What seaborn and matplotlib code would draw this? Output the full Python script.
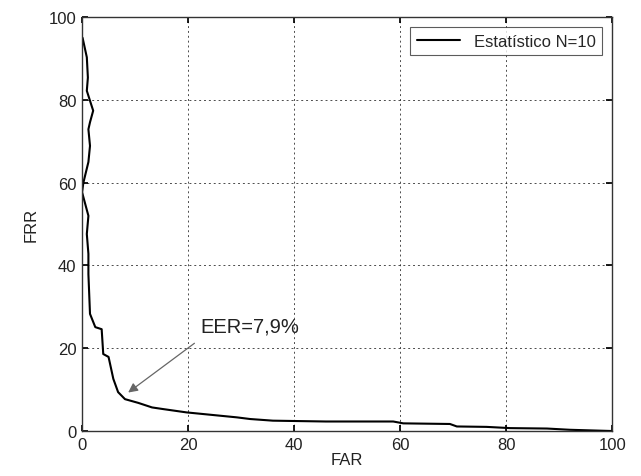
import pandas as pd
import seaborn as sns
import matplotlib.pyplot as plt

far = [0.1, 0.9, 1.1, 0.9, 1.5, 2.1, 1.5, 1.2, 1.5, 1.2, 0.25, 0.0, 1.2, 0.9, 1.2, 1.2,
       1.5, 2.5, 3.7, 4.0, 5.0, 5.9, 6.8, 8.1, 10.6, 13.2, 15.3, 19.7, 29.2, 31.7,
       36.0, 46.0, 58.7, 60.6, 69.4, 70.7, 76.3, 80.8, 87.7, 92.0, 100.0]
frr = [95.0, 90.3, 85.4, 82.2, 79.8, 77.4, 74.6, 72.9, 68.9, 65.0, 60.0, 57.7, 52.0, 47.6, 42.8, 37.9,
       28.3, 25.1, 24.6, 18.6, 17.9, 12.6, 9.4, 7.7, 6.8, 5.7, 5.3, 4.5, 3.3, 2.9,
       2.5, 2.3, 2.3, 1.85, 1.7, 1.1, 1.0, 0.7, 0.6, 0.3, 0.0]
label = "Estatístico N=10"
eer_text = "EER=7,9%"

df = pd.DataFrame({"FAR": far, "FRR": frr})

sns.set_theme(style="white")
plt.rcParams["font.family"] = ["Liberation Sans", "DejaVu Sans"]

fig = plt.figure(figsize=(6.41, 4.77), dpi=100)
ax = fig.add_axes([0.128, 0.0943, 0.827, 0.8677])

sns.lineplot(data=df, x="FAR", y="FRR", sort=False, estimator=None, color="black",
             linewidth=1.5, label=label, ax=ax)

ax.set_xlim(0, 100)
ax.set_ylim(0, 100)
ax.set_xticks([0, 20, 40, 60, 80, 100])
ax.set_yticks([0, 20, 40, 60, 80, 100])
ax.grid(True, color="black", linestyle=(0, (2, 3)), linewidth=0.7, alpha=0.7)
ax.tick_params(direction="in", labelsize=12, length=4, colors="black", pad=4,
               top=True, right=True, bottom=True, left=True, labelcolor="#222222")
for s in ax.spines.values():
    s.set_color("#333333")
    s.set_linewidth(1.0)
ax.set_xlabel("FAR", fontsize=12, labelpad=0, color="#222222")
ax.set_ylabel("FRR", fontsize=12, labelpad=7, color="#222222")

# label and arrow pointing at the EER point
ax.text(22.3, 25.4, eer_text, fontsize=14.5, va="center", ha="left", color="#222222")
ax.annotate("", xy=(8.7, 9.3), xytext=(21.2, 21.2),
            arrowprops=dict(arrowstyle="-|>", color="#666666", lw=0.9, shrinkA=0,
                            shrinkB=0, mutation_scale=14))

leg = ax.legend(loc="upper right", fontsize=12, frameon=True, fancybox=False,
                edgecolor="#333333", handlelength=2.6, borderaxespad=0.6)
leg.get_frame().set_linewidth(0.8)

fig.savefig("out.png", dpi=100)
